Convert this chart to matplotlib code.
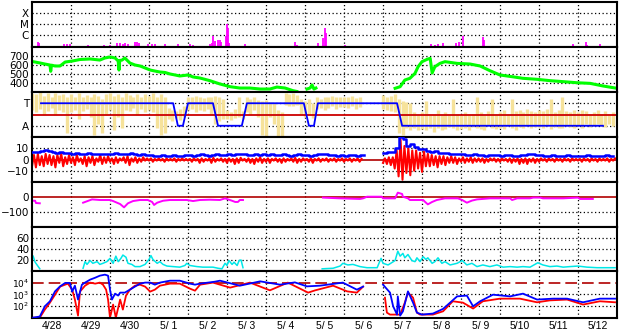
import numpy as np
import matplotlib.pyplot as plt

nan = np.nan

# time axis: days since 4/28 00:00, 15 days shown
day_labels = ['4/28', '4/29', '4/30', '5/ 1', '5/ 2', '5/ 3', '5/ 4', '5/ 5',
              '5/ 6', '5/ 7', '5/ 8', '5/ 9', '5/10', '5/11', '5/12']

# --- X-ray flare bars (log10 flux) ---
xr_t = [0.15, 0.18, 0.82, 0.9, 0.97, 1.44, 1.85, 2.0, 2.18, 2.26, 2.33, 2.38, 2.46,
        2.64, 2.69, 2.74, 2.97, 3.08, 3.15, 3.41, 3.74, 4.05, 4.13, 4.56, 4.62, 4.64,
        4.69, 4.77, 4.82, 4.85, 4.97, 5.0, 5.03, 5.05, 5.46, 6.74, 6.79, 7.08, 7.33,
        7.46, 7.51, 7.54, 8.03, 8.1, 8.23, 9.28, 9.51, 10.23, 10.33, 10.41, 10.54,
        10.87, 10.95, 11.05, 11.56, 11.59, 13.87, 14.21, 14.23, 14.56]
xr_log = [-6.61, -6.73, -6.82, -6.82, -6.82, -6.91, -6.91, -6.91, -6.73, -6.73, -6.82,
          -6.77, -6.82, -6.64, -6.68, -6.73, -6.82, -6.82, -6.82, -6.82, -6.82, -6.82,
          -6.91, -6.82, -6.73, -6.09, -6.55, -6.45, -6.45, -6.64, -6.09, -5.0, -5.36,
          -6.73, -6.82, -6.64, -6.91, -7.0, -6.73, -6.27, -5.36, -5.82, -6.91, -7.0,
          -7.0, -7.0, -7.0, -6.82, -6.91, -6.82, -6.73, -6.73, -6.64, -6.09, -6.18,
          -6.45, -6.82, -6.64, -6.91, -6.82]

# --- solar wind speed (km/s) ---
v_t = [0.03, 0.21, 0.33, 0.46, 0.48, 0.5, 0.59, 0.72, 0.85, 1.03, 1.23, 1.49, 1.74, 1.87,
       2.0, 2.13, 2.21, 2.23, 2.25, 2.31, 2.38, 2.51, 2.64, 2.77, 2.9, 3.03, 3.15, 3.28,
       3.41, 3.54, 3.67, 3.79, 4.0, 4.13, 4.31, 4.56, 4.82, 5.08, 5.33, 5.59, 5.85, 6.1,
       6.28, 6.49, 6.69, 6.79, 6.9,
       7.05, 7.13, 7.18, 7.23, 7.28, 7.3,
       9.31, 9.44, 9.56, 9.69, 9.82, 9.9, 10.0, 10.13, 10.21, 10.26, 10.33, 10.46, 10.59,
       10.9, 11.23, 11.49, 11.74, 12.0, 12.31, 12.59, 12.95, 13.28, 13.62, 13.97, 14.31,
       14.64, 15.0]
v_kms = [637, 622, 611, 600, 530, 598, 589, 589, 633, 644, 661, 667, 655, 678,
         689, 678, 644, 544, 650, 655, 678, 622, 600, 589, 567, 544, 533, 522,
         517, 500, 489, 478, 489, 467, 455, 426, 389, 359, 344, 344, 333, 333,
         355, 344, 315, 306, nan,
         333, 344, 378, 333, 344, nan,
         341, 359, 433, 452, 507, 581, 637, 663, 674, 511, 581, 618, 637,
         618, 611, 589, 537, 489, 470, 452, 441, 426, 415, 403, 396,
         367, 341]

# --- T / A indicator (0.25 = A, 0.75 = T) ---
ta_t = [0.23, 3.62, 3.74, 3.87, 4.0, 4.64, 4.77, 5.38, 5.51, 6.97, 7.1, 7.23, 7.33,
        9.36, 9.49, 14.64]
ta_v = [0.75, 0.75, 0.25, 0.25, 0.75, 0.75, 0.25, 0.25, 0.75, 0.75, 0.25, 0.25, 0.75,
        0.75, 0.25, 0.25]

# raw angle data, low/high envelope every 0.1 day
ang_lo = [0.6, 0.55, 0.62, 0.48, 0.58, 0.65, 0.5, 0.6, 0.55, 0.1,
          0.55, 0.6, 0.4, 0.58, 0.62, 0.45, 0.05, 0.3, 0.1, 0.5,
          0.6, 0.15, 0.45, 0.2, 0.6, 0.58, 0.65, 0.5, 0.62, 0.55,
          0.6, 0.55, 0.2, 0.05, 0.1, 0.4, 0.35, 0.42, 0.38, 0.45,
          0.6, 0.62, 0.55, 0.6, 0.58, 0.62, 0.5, 0.3, 0.35, 0.4,
          0.4, 0.38, 0.42, 0.45, 0.4, 0.55, 0.5, 0.6, 0.45, 0.05,
          0.02, 0.45, 0.3, 0.0, 0.02, 0.72, 0.68, 0.7, 0.72, 0.5,
          0.45, 0.5, 0.42, 0.62, 0.65, 0.6, 0.65, 0.68, 0.62, 0.66,
          0.66, 0.64, 0.68, 0.62, 0.66, nan, nan, nan, nan, nan,
          0.62, 0.6, 0.58, 0.55, 0.1, 0.05, 0.2, 0.15, 0.2, 0.15,
          0.18, 0.15, 0.2, 0.12, 0.2, 0.15, 0.18, 0.22, 0.2, 0.15,
          0.18, 0.2, 0.15, 0.22, 0.2, 0.18, 0.15, 0.25, 0.2, 0.18,
          0.2, 0.18, 0.25, 0.2, 0.15, 0.22, 0.2, 0.25, 0.2, 0.22,
          0.22, 0.2, 0.25, 0.18, 0.22, 0.2, 0.2, 0.25, 0.22, 0.2,
          0.25, 0.2, 0.28, 0.22, 0.25, 0.3, 0.25, 0.22, 0.28, 0.25]
ang_hi = [0.98, 0.95, 1.0, 0.92, 0.97, 0.9, 0.98, 0.93, 0.96, 0.9,
          0.95, 0.9, 0.97, 0.88, 0.93, 0.9, 0.96, 0.92, 0.85, 0.95,
          0.97, 0.92, 0.95, 0.9, 0.98, 0.93, 0.88, 0.95, 0.9, 0.96,
          0.92, 0.97, 0.9, 0.95, 0.9, 0.65, 0.6, 0.58, 0.62, 0.7,
          0.9, 0.88, 0.92, 0.9, 0.86, 0.9, 0.88, 0.92, 0.9, 0.85,
          0.6, 0.55, 0.62, 0.9, 0.58, 0.88, 0.85, 0.9, 0.82, 0.8,
          0.82, 0.78, 0.75, 0.6, 0.55, 0.98, 0.95, 0.97, 0.93, 0.85,
          0.8, 0.85, 0.75, 0.88, 0.85, 0.9, 0.88, 0.92, 0.9, 0.88,
          0.9, 0.88, 0.92, 0.87, 0.9, nan, nan, nan, nan, nan,
          0.93, 0.9, 0.92, 0.95, 0.85, 0.8, 0.78, 0.75, 0.55, 0.5,
          0.55, 0.8, 0.5, 0.52, 0.6, 0.48, 0.55, 0.5, 0.85, 0.52,
          0.5, 0.55, 0.48, 0.52, 0.9, 0.55, 0.5, 0.58, 0.85, 0.5,
          0.55, 0.6, 0.52, 0.85, 0.58, 0.6, 0.55, 0.62, 0.58, 0.55,
          0.6, 0.58, 0.62, 0.85, 0.55, 0.6, 0.9, 0.58, 0.55, 0.6,
          0.55, 0.6, 0.58, 0.52, 0.55, 0.6, 0.52, 0.58, 0.5, 0.55]

# --- magnetic field (nT), every 0.1 day ---
bt = [6.5, 7, 7.5, 8.5, 8, 7, 6, 6.5, 6, 5.5,
      5, 5.5, 5, 5, 5.5, 5, 5, 4.5, 5, 5,
      5, 5.5, 5, 4.5, 5, 5.5, 4.5, 4, 4.5, 4,
      4, 3.5, 3.5, 4, 3.5, 3.5, 4, 3.5, 3.5, 4,
      4, 3.5, 4, 4.5, 4, 3.5, 4, 4.5, 4, 4,
      4.5, 4, 4.5, 5, 4.5, 4, 4, 4.5, 4, 4.5,
      4, 4.5, 4, 4, 4.5, 4, 3.5, 4, 4.5, 4,
      4, 3.5, 4, 4.5, 5, 4.5, 4, 4, 3.5, 4,
      3.5, 4, 4, 3.5, 4, nan, nan, nan, nan, nan,
      6, 6.5, 7, 10, 20, 18, 12, 14, 11, 9,
      9, 8, 7, 7.5, 6, 6, 5.5, 5, 5, 4.5,
      4.5, 4, 4, 4.5, 4, 4, 3.5, 4, 4, 4,
      3.5, 4, 4, 3.5, 3.5, 4, 4, 4.5, 4.5, 4,
      4, 3.5, 3.5, 4, 3.5, 3.5, 3.5, 4, 3.5, 3.5,
      3.5, 3.5, 4, 3.5, 3.5, 3.5, 3.5, 4, 3.5, 3.5]
bz_lo = [-6, -7, -5, -6, -4, -5, -7, -3, -6, -4,
         -3, -5, -2, -4, -6, -3, -5, -2, -4, -3,
         -2, -4, -3, -1, -3, -5, -2, -3, -2, -1,
         -1, -2, -1, -1, -2, -1, -1, -2, -1, -1,
         -1, -2, -1, -3, -2, -1, -3, -2, -1, -2,
         -3, -2, -4, -3, -1, -2, -3, -4, -2, -3,
         -2, -3, -1, -2, -3, -2, -1, -2, -3, -2,
         -1, -2, -3, -1, -2, -1, -2, -1, -2, -1,
         -2, -1, -2, -1, -2, nan, nan, nan, nan, nan,
         -3, -4, -5, -8, -15, -18, -12, -14, -10, -8,
         -11, -6, -6, -5, -7, -4, -5, -3, -3, -4,
         -2, -3, -2, -3, -2, -2, -3, -2, -1, -2,
         -2, -1, -2, -3, -2, -4, -3, -4, -2, -3,
         -2, -1, -2, -1, -2, -1, -2, -1, -2, -1,
         -1, -2, -1, -2, -1, -2, -1, -1, -2, -1]
bz_hi = [4, 5, 3, 5, 4, 3, 4, 5, 2, 4,
         2, 4, 1, 3, 2, 3, 1, 4, 2, 3,
         1, 2, 1, 2, 3, 1, 2, 1, 2, 1,
         1, 0.5, 1, 0.5, 1, 0.5, 1, 0.5, 1, 0.5,
         0.5, 1, 0.5, 1, 0.5, 1, 1.5, 0.5, 1, 0.5,
         1, 0.5, 1, 1.5, 0.5, 1, 0.5, 1, 2, 0.5,
         1, 0.5, 1, 0.5, 1, 0.5, 1, 1.5, 0.5, 1,
         0.5, 1, 0.5, 1, 0.5, 1, 0.5, 1, 0.5, 1,
         0.5, 1, 0.5, 1, 0.5, nan, nan, nan, nan, nan,
         1, 2, 2, 8, 18, 12, 10, 8, 8, 6,
         7, 5, 4, 3, 3, 3, 2, 3, 2, 1,
         2, 1, 2, 1, 1, 1, 0.5, 1, 1, 0.5,
         1, 0.5, 1, 0.5, 1, 0.5, 1, 0.5, 1, 0.5,
         1, 0.5, 1, 0.5, 1, 0.5, 1, 0.5, 1, 0.5,
         0.5, 1, 0.5, 1, 0.5, 1, 0.5, 1, 0.5, 1]

# --- Dst (nT) ---
dst_t = [0.0, 0.08, 0.1, 0.2, 0.21,
         1.31, 1.54, 1.74, 2.0, 2.08, 2.26, 2.36, 2.46, 2.59, 2.77, 2.97, 3.08, 3.13,
         3.21, 3.36, 3.54, 3.97, 4.13, 4.31, 4.56, 4.82, 4.95, 5.13, 5.21, 5.28, 5.33,
         5.41, 5.42,
         7.46, 7.9, 8.41, 8.49, 8.59, 8.97, 9.0, 9.31, 9.38, 9.49, 9.51, 9.64, 9.69,
         10.03, 10.08, 10.15, 10.26, 10.38, 10.59, 10.92, 11.03, 11.15, 11.28, 11.41,
         11.74, 12.26, 12.31, 12.44, 12.77, 12.85, 13.03, 13.1, 13.62, 14.0, 14.05, 14.38]
dst_v = [-25, -25, -40, -42, nan,
         -38, -16, -20, -20, -27, -47, -69, -42, -27, -20, -20, -33, -53,
         -38, -25, -20, -20, -27, -20, -18, -20, -9, -25, -33, -33, -20,
         -20, nan,
         -4, -9, -13, -9, 2, 2, -9, -9, 29, 20, 2, -9, -20,
         -20, -33, -49, -33, -20, -9, -9, -20, -38, -24, -16,
         -9, -9, -20, -9, -9, -4, -4, -9, -9, -4, -13, -13]

# --- proton density (/cc) ---
den_t = [0.03, 0.08, 0.15, 0.2, 0.21,
         1.31, 1.36, 1.41, 1.49, 1.56, 1.67, 1.74, 1.82, 1.92, 2.0, 2.08, 2.15, 2.21,
         2.28, 2.33, 2.41, 2.46, 2.56, 2.64, 2.77, 2.9, 3.0, 3.05, 3.1, 3.21, 3.28,
         3.36, 3.46, 3.62, 3.79, 3.92, 3.97, 4.05, 4.23, 4.38, 4.64, 4.77, 4.87, 4.95,
         5.0, 5.05, 5.13, 5.18, 5.26, 5.31, 5.36, 5.41, 5.42,
         7.44, 7.72, 7.9, 7.97, 8.1, 8.23, 8.41, 8.59, 8.85, 8.95, 9.0, 9.13, 9.31,
         9.38, 9.44, 9.51, 9.56, 9.64, 9.74, 9.82, 9.87, 9.95, 10.03, 10.1, 10.15,
         10.26, 10.33, 10.41, 10.51, 10.59, 10.72, 10.9, 11.03, 11.15, 11.28, 11.41,
         11.56, 11.74, 11.92, 12.08, 12.26, 12.44, 12.59, 12.77, 12.97, 13.1, 13.28,
         13.46, 13.62, 13.79, 14.0, 14.23, 14.49, 14.95]
den_v = [27, 16, 9, 4, nan,
         5, 17, 12, 19, 14, 17, 12, 14, 17, 23, 14, 27, 17,
         23, 29, 25, 14, 12, 8, 8, 12, 21, 28, 21, 14, 17,
         12, 9, 8, 7, 10, 14, 10, 8, 7, 7, 5, 4, 14,
         10, 19, 12, 16, 10, 19, 20, 6, nan,
         4, 5, 9, 14, 11, 12, 8, 6, 6, 23, 14, 11, 19,
         36, 27, 32, 24, 30, 19, 17, 24, 17, 26, 21, 24,
         14, 17, 24, 14, 17, 11, 14, 19, 11, 14, 8,
         11, 8, 11, 7, 8, 7, 8, 7, 15, 11, 8,
         9, 7, 8, 9, 7, 6, 6]

# --- electron / proton flux (log10) ---
e_t = [0.03, 0.2, 0.33, 0.46, 0.59, 0.72, 0.85, 0.97, 1.03, 1.1, 1.18, 1.28, 1.36,
       1.49, 1.62, 1.74, 1.87, 1.95, 2.0, 2.05, 2.13, 2.21, 2.26, 2.38, 2.51, 2.64,
       2.77, 2.9, 3.03, 3.15, 3.28, 3.54, 3.79, 4.05, 4.18, 4.31, 4.69, 4.82, 5.33,
       5.85, 6.36, 6.74, 7.05, 7.38, 7.97, 8.33, 8.49, 8.5,
       9.0, 9.18, 9.26, 9.36, 9.38, 9.44, 9.51, 9.64, 9.77, 9.87, 10.0, 10.28, 10.54,
       10.72, 10.9, 11.15, 11.31, 11.49, 11.82, 12.26, 12.59, 12.95, 13.36, 13.72,
       14.13, 14.56, 14.95]
e_log = [0.95, 1.05, 1.95, 2.39, 3.26, 3.7, 4.0, 4.0, 3.24, 3.76, 2.54, 3.85, 4.03,
         4.29, 4.46, 4.64, 4.73, 4.64, 3.41, 2.54, 3.06, 2.89, 3.15, 3.15, 3.41, 3.68,
         3.94, 4.03, 4.03, 3.85, 4.03, 4.2, 4.2, 3.94, 3.85, 3.94, 4.11, 4.2, 3.76,
         4.14, 3.85, 4.05, 3.7, 3.76, 4.03, 3.41, 3.68, nan,
         3.85, 3.15, 1.95, 1.22, 2.82, 1.13, 1.5, 3.26, 2.27, 1.39, 1.22, 1.31, 1.72,
         2.27, 2.82, 2.89, 1.95, 2.39, 2.97, 2.82, 3.06, 2.54, 2.62, 2.62,
         2.3, 2.62, 2.62]
p_t = [0.03, 0.2, 0.33, 0.46, 0.59, 0.72, 0.85, 0.92, 1.03, 1.1, 1.18, 1.23, 1.36,
       1.49, 1.62, 1.74, 1.82, 1.9, 1.95, 2.0, 2.08, 2.15, 2.26, 2.33, 2.41, 2.51,
       2.64, 2.77, 2.9, 3.03, 3.15, 3.28, 3.54, 3.79, 4.05, 4.18, 4.31, 4.64, 5.08,
       5.59, 6.1, 6.56, 7.08, 7.26, 7.72, 8.08, 8.33, 8.49, 8.5,
       9.05, 9.1, 9.18, 9.44, 9.56, 9.64, 9.77, 9.87, 9.95, 10.28, 10.54, 10.79,
       11.05, 11.31, 11.56, 12.0, 12.51, 12.95, 13.28, 13.72, 14.13, 14.56, 14.95]
p_log = [0.95, 0.95, 1.66, 2.27, 2.97, 3.68, 3.85, 3.94, 3.41, 2.54, 1.13, 3.24, 3.76,
         4.03, 3.94, 4.03, 3.85, 3.41, 2.54, 0.95, 2.1, 0.95, 2.54, 1.66, 2.89, 3.41,
         3.76, 3.85, 3.68, 3.24, 3.41, 3.76, 3.94, 3.94, 3.5, 3.32, 3.85, 4.03, 3.59,
         4.03, 3.35, 4.03, 3.15, 3.35, 3.76, 3.26, 3.15, 3.68, nan,
         2.71, 1.39, 1.22, 1.22, 2.27, 3.15, 2.71, 1.39, 1.22, 1.22, 1.51, 2.39,
         2.27, 1.75, 2.39, 2.62, 2.62, 2.3, 2.47, 2.54, 2.1, 2.39, 2.3]

W, H = 628, 334
fig = plt.figure(figsize=(W / 100, H / 100), dpi=100)
edges = [2, 47, 92, 137, 182, 227, 271, 318]
axes = []
for k in range(7):
    top, bot = edges[k], edges[k + 1]
    ax = fig.add_axes([32 / W, 1 - bot / H, 585 / W, (bot - top) / H])
    ax.set_xlim(0, 15)
    ax.set_xticks([])
    ax.tick_params(length=0, labelsize=7.5, pad=2)
    for s in ax.spines.values():
        s.set_linewidth(1.5)
    for d in range(1, 15):
        ax.axvline(d, color='k', ls=(0, (1, 2)), lw=0.9, zorder=0)
    axes.append(ax)

dot = dict(color='k', ls=(0, (1, 2)), lw=0.9, zorder=0)
t10 = np.arange(150) * 0.1

# X-ray
ax = axes[0]
ax.set_yscale('log')
ax.set_ylim(10 ** -7.09, 1e-3)
ax.vlines(xr_t, 10 ** -7.09, 10 ** np.array(xr_log), color='#FF00FF', lw=1.3)
ax.set_yticks([1e-6, 1e-5, 1e-4], ['C', 'M', 'X'])
ax.minorticks_off()
for y in [1e-6, 1e-5, 1e-4]:
    ax.axhline(y, **dot)

# speed
ax = axes[1]
ax.set_ylim(300, 800)
ax.plot(v_t, v_kms, color='#00FF00', lw=2.2)
ax.set_yticks([400, 500, 600, 700])
for y in [400, 500, 600, 700]:
    ax.axhline(y, **dot)

# T / A
ax = axes[2]
ax.set_ylim(0, 1)
ok = np.isfinite(ang_lo)
ax.vlines(t10[ok], np.array(ang_lo)[ok], np.array(ang_hi)[ok], color='#F6E29A', lw=2.4, zorder=1)
ax.axhline(0.5, color='#CC0000', lw=1.3, zorder=2)
ax.plot(ta_t, ta_v, color='#0000FF', lw=1.3, zorder=3)
ax.set_yticks([0.25, 0.75], ['A', 'T'])
for y in [0.25, 0.75]:
    ax.axhline(y, **dot)

# Bt / Bz
ax = axes[3]
ax.set_ylim(-20, 20)
ax.axhline(0, color='#B00000', lw=1.2, zorder=1)
zt = np.column_stack([t10, t10 + 0.05]).ravel()
zv = np.column_stack([bz_lo, bz_hi]).ravel()
ax.plot(zt, zv, color='#FF0000', lw=1.5, zorder=2)
ax.plot(t10, bt, color='#0000FF', lw=1.8, drawstyle='steps-post', zorder=3)
ax.set_yticks([-10, 0, 10])
for y in [-10, 10]:
    ax.axhline(y, **dot)

# Dst
ax = axes[4]
ax.set_ylim(-200, 100)
ax.axhline(0, color='#B00000', lw=1.2, zorder=1)
ax.plot(dst_t, dst_v, color='#FF00FF', lw=1.4, zorder=2)
ax.set_yticks([-100, 0])
ax.axhline(-100, **dot)

# density
ax = axes[5]
ax.set_ylim(0, 80)
ax.plot(den_t, den_v, color='#00E8E8', lw=1.1)
ax.set_yticks([20, 40, 60])
for y in [20, 40, 60]:
    ax.axhline(y, **dot)

# flux
ax = axes[6]
ax.set_yscale('log')
ax.set_ylim(10 ** 0.92, 10 ** 5.05)
ax.axhline(1e4, color='#B00000', lw=1.2, ls=(0, (7, 3)), zorder=1)
ax.plot(p_t, 10 ** np.array(p_log), color='#FF0000', lw=1.3, zorder=2)
ax.plot(e_t, 10 ** np.array(e_log), color='#0000FF', lw=1.3, zorder=3)
ax.set_yticks([1e2, 1e3, 1e4], ['$10^2$', '$10^3$', '$10^4$'])
ax.minorticks_off()
ax.tick_params(axis='y', labelsize=6.5)
for y in [1e2, 1e3]:
    ax.axhline(y, **dot)
ax.set_xticks(np.arange(15) + 0.5, day_labels, fontsize=7.5, family='Liberation Sans')
ax.tick_params(axis='x', pad=2)

fig.savefig('out.png', dpi=100)
